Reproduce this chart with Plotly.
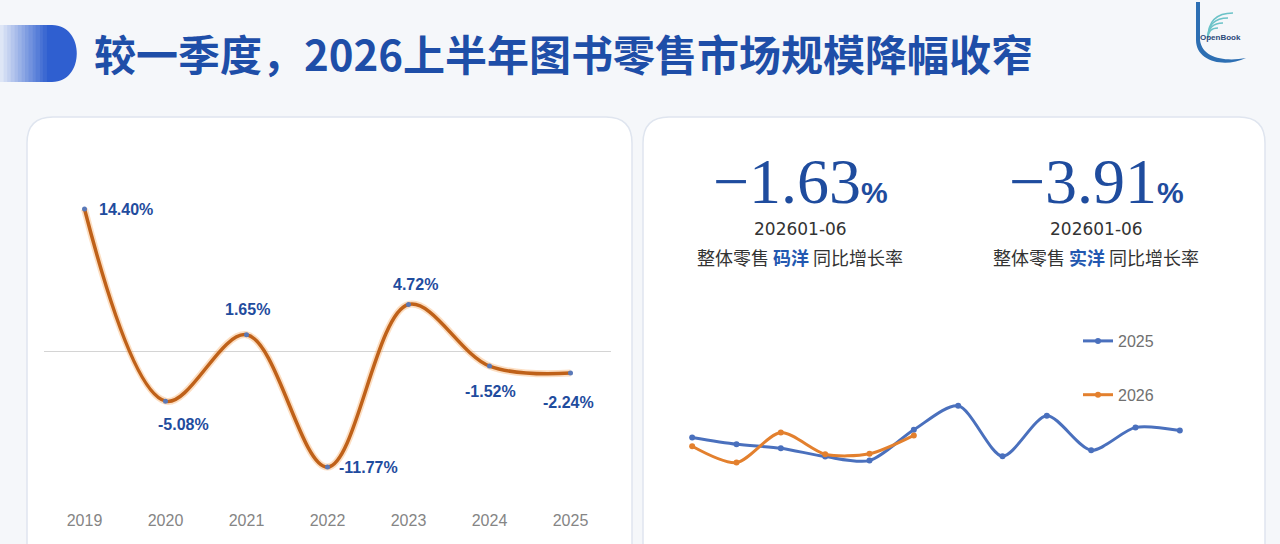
import plotly.graph_objects as go

W, H = 1280, 544

# left chart: yearly retail growth
years = [2019, 2020, 2021, 2022, 2023, 2024, 2025]
growth = [14.40, -5.08, 1.65, -11.77, 4.72, -1.52, -2.24]
# label offsets in pixels relative to each point
label_dx = [41, 18, 1, 41, 7, 1, -2]
label_dy = [0, -23, 25, 0, 20, -25, -29]

# right chart: monthly series (arbitrary units)
months = [1, 2, 3, 4, 5, 6, 7, 8, 9, 10, 11, 12]
s2025 = [1.9, 0.2, -0.8, -2.9, -3.9, 3.8, 9.8, -2.8, 7.3, -1.3, 4.4, 3.6]
months_2026 = [1, 2, 3, 4, 5, 6]
s2026 = [-0.3, -4.4, 3.1, -2.3, -2.2, 2.4]

kpi_values = ["-1.63", "-3.91"]
kpi_period = ["202601-06", "202601-06"]
kpi_kind = ["码洋", "实洋"]

title_text = "较一季度，2026上半年图书零售市场规模降幅收窄"

BLUE_TXT = "#1f4c9e"


def X(px):
    return px / W


def Y(py):
    return 1 - py / H


def rounded(x0, y0, x1, y1, r):
    # rounded rectangle path in paper coordinates, pixel inputs
    p = [
        f"M{X(x0 + r)},{Y(y0)}",
        f"L{X(x1 - r)},{Y(y0)}",
        f"Q{X(x1)},{Y(y0)} {X(x1)},{Y(y0 + r)}",
        f"L{X(x1)},{Y(y1 - r)}",
        f"Q{X(x1)},{Y(y1)} {X(x1 - r)},{Y(y1)}",
        f"L{X(x0 + r)},{Y(y1)}",
        f"Q{X(x0)},{Y(y1)} {X(x0)},{Y(y1 - r)}",
        f"L{X(x0)},{Y(y0 + r)}",
        f"Q{X(x0)},{Y(y0)} {X(x0 + r)},{Y(y0)}",
        "Z",
    ]
    return " ".join(p)


fig = go.Figure()

# left line chart
fig.add_trace(go.Scatter(
    x=years, y=growth, mode="lines", line=dict(shape="spline", smoothing=1.0,
                                               color="rgba(245,160,80,0.35)", width=7),
    hoverinfo="skip", showlegend=False, xaxis="x", yaxis="y"))
fig.add_trace(go.Scatter(
    x=years, y=growth, mode="lines+markers",
    line=dict(shape="spline", smoothing=1.0, color="#bf6119", width=3.5),
    marker=dict(size=5, color="#5a79b8"),
    showlegend=False, xaxis="x", yaxis="y"))

# right line chart
fig.add_trace(go.Scatter(
    x=months, y=s2025, name="2025", mode="lines+markers", legendgroup="a",
    line=dict(shape="spline", smoothing=0.8, color="#4a70bd", width=3),
    marker=dict(size=6, color="#4a70bd"), xaxis="x2", yaxis="y2"))
fig.add_trace(go.Scatter(
    x=months_2026, y=s2026, name="2026", mode="lines+markers", legendgroup="b",
    line=dict(shape="spline", smoothing=0.8, color="#e3802e", width=3),
    marker=dict(size=6, color="#e3802e"), xaxis="x2", yaxis="y2"))

shapes = []

# panels
shapes.append(dict(type="path", xref="paper", yref="paper", path=rounded(27, 117, 632, 580, 26),
                   fillcolor="white", line=dict(color="#dfe5ef", width=1.5), layer="below"))
shapes.append(dict(type="path", xref="paper", yref="paper", path=rounded(643, 117, 1265, 580, 26),
                   fillcolor="white", line=dict(color="#dfe5ef", width=1.5), layer="below"))

# title pill with a faked gradient
n = 14
for i in range(n):
    t = i / (n - 1)
    r = int(222 + (47 - 222) * t)
    g = int(230 + (95 - 230) * t)
    b = int(246 + (208 - 246) * t)
    shapes.append(dict(type="rect", xref="paper", yref="paper",
                       x0=X(i * 50 / n), x1=X((i + 1) * 50 / n + 0.5), y0=Y(82), y1=Y(25),
                       fillcolor=f"rgb({r},{g},{b})", line=dict(width=0), layer="below"))
shapes.append(dict(type="path", xref="paper", yref="paper",
                   path=(f"M{X(50)},{Y(25)} L{X(52)},{Y(25)} "
                         f"C{X(85)},{Y(25)} {X(85)},{Y(82)} {X(52)},{Y(82)} "
                         f"L{X(50)},{Y(82)} Z"),
                   fillcolor="#2f5fd0", line=dict(width=0), layer="below"))

# logo swoosh
shapes.append(dict(type="path", xref="paper", yref="paper",
                   path=(f"M{X(1196)},{Y(2)} L{X(1200)},{Y(2)} L{X(1200)},{Y(40)} "
                         f"C{X(1202)},{Y(58)} {X(1225)},{Y(62)} {X(1246)},{Y(58)} "
                         f"C{X(1225)},{Y(68)} {X(1196)},{Y(62)} {X(1196)},{Y(40)} Z"),
                   fillcolor="#2d6fb3", line=dict(width=0)))
for k, rad in enumerate([10, 15, 20, 25]):
    shapes.append(dict(type="path", xref="paper", yref="paper",
                       path=(f"M{X(1208)},{Y(38)} "
                             f"Q{X(1208)},{Y(38 - rad)} {X(1208 + rad)},{Y(38 - rad)}"),
                       line=dict(color="#6cc3c8", width=1.5)))

annotations = [
    dict(xref="paper", yref="paper", x=X(92), y=Y(53), xanchor="left", yanchor="middle",
         text=f"<b>{title_text}</b>", showarrow=False,
         font=dict(family="Noto Sans CJK SC", size=42, color="#1e4ea8")),
    dict(xref="paper", yref="paper", x=X(1243), y=Y(31), text="<b>OpenBook</b>",
         showarrow=False, font=dict(family="Liberation Sans", size=8, color="#2b4a7a")),
]

# data labels of the left chart
for yr, v, dx, dy in zip(years, growth, label_dx, label_dy):
    annotations.append(dict(
        xref="x", yref="y", x=yr, y=v, xshift=dx, yshift=dy, text=f"<b>{v:.2f}%</b>",
        showarrow=False, xanchor="center", yanchor="middle",
        font=dict(family="Liberation Sans, Arial", size=16, color=BLUE_TXT)))

centers = [800, 1096]
for cx, v, per, kind in zip(centers, kpi_values, kpi_period, kpi_kind):
    annotations.append(dict(
        xref="paper", yref="paper", x=X(cx), y=Y(182), xanchor="center", yanchor="middle",
        text=(f"{v.replace('-', '−')}"
              f"<span style='font-size:30px;font-family:Liberation Sans'><b>%</b></span>"),
        showarrow=False, font=dict(family="Liberation Serif", size=64, color=BLUE_TXT)))
    annotations.append(dict(
        xref="paper", yref="paper", x=X(cx), y=Y(229), xanchor="center", yanchor="middle",
        text=per, showarrow=False,
        font=dict(family="DejaVu Sans", size=17, color="#333333")))
    annotations.append(dict(
        xref="paper", yref="paper", x=X(cx), y=Y(257), xanchor="center", yanchor="middle",
        text=f"整体零售 <span style='color:#2358b0'><b>{kind}</b></span> 同比增长率",
        showarrow=False, font=dict(family="Noto Sans CJK SC", size=18, color="#333333")))

fig.update_layout(
    width=W, height=H,
    margin=dict(l=0, r=0, t=0, b=0),
    paper_bgcolor="#f5f7fa",
    plot_bgcolor="rgba(0,0,0,0)",
    shapes=shapes,
    annotations=annotations,
    font=dict(family="Liberation Sans, Arial"),
    xaxis=dict(domain=[X(44), X(611)], range=[2018.5, 2025.5], tickmode="array",
               tickvals=years, ticktext=[str(y) for y in years], showgrid=False,
               zeroline=False, showline=False, ticks="",
               tickfont=dict(size=16, color="#858585")),
    yaxis=dict(domain=[Y(509), Y(170)], range=[-16.02, 18.36], showgrid=False,
               zeroline=True, zerolinecolor="#d4d4d4", zerolinewidth=1,
               showticklabels=False, showline=False, ticks=""),
    xaxis2=dict(domain=[X(670), X(1202)], range=[0.5, 12.5], visible=False),
    yaxis2=dict(domain=[Y(490), Y(300)], range=[-11.25, 36.25], visible=False,
                anchor="x2"),
    legend=dict(x=X(1078), y=Y(324), xanchor="left", yanchor="top",
                bgcolor="rgba(0,0,0,0)", tracegroupgap=30,
                font=dict(family="Liberation Sans", size=16, color="#707070")),
)

fig.write_html("out.html", config={"displayModeBar": False},
               post_script="document.body.style.margin='0';")
